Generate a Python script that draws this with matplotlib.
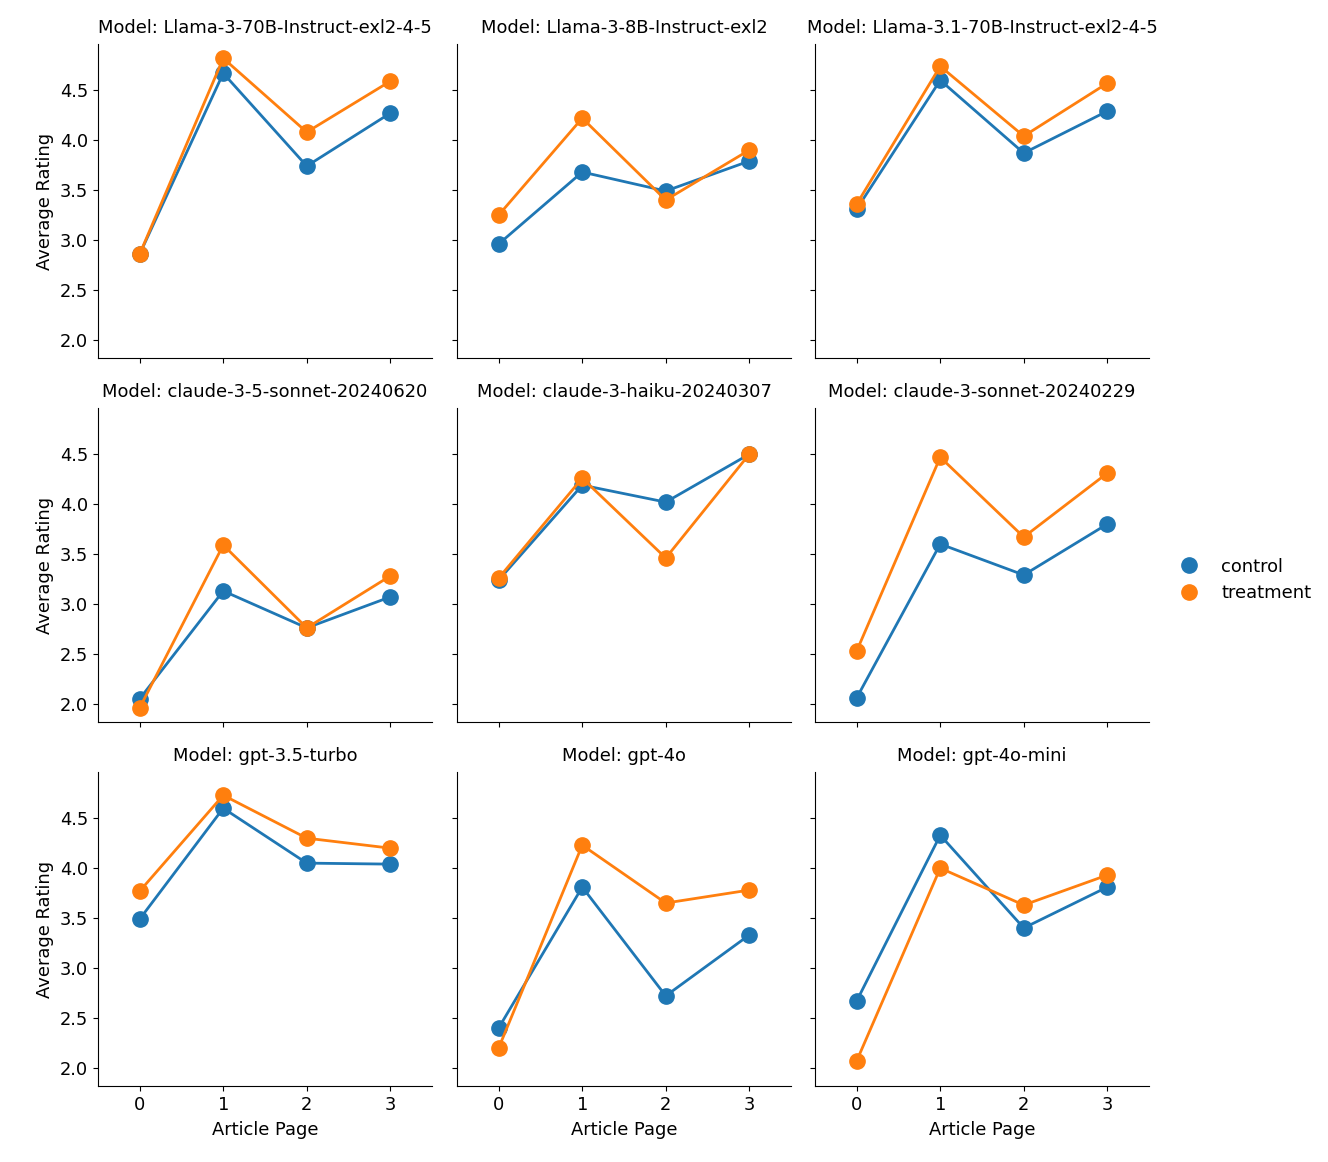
import matplotlib
matplotlib.use("Agg")
import matplotlib.pyplot as plt
from matplotlib.lines import Line2D

plt.rcParams['font.size'] = 12.9

# Dados
models = ['Llama-3-70B-Instruct-exl2-4-5', 'Llama-3-8B-Instruct-exl2', 'Llama-3.1-70B-Instruct-exl2-4-5',
          'claude-3-5-sonnet-20240620', 'claude-3-haiku-20240307', 'claude-3-sonnet-20240229',
          'gpt-3.5-turbo', 'gpt-4o', 'gpt-4o-mini']
pages = [0, 1, 2, 3]

control = [
    [2.86, 4.67, 3.74, 4.27],
    [2.96, 3.68, 3.49, 3.79],
    [3.31, 4.60, 3.87, 4.29],
    [2.05, 3.13, 2.76, 3.07],
    [3.24, 4.19, 4.02, 4.50],
    [2.06, 3.60, 3.29, 3.80],
    [3.49, 4.60, 4.05, 4.04],
    [2.40, 3.81, 2.72, 3.33],
    [2.67, 4.33, 3.40, 3.81],
]
treatment = [
    [2.86, 4.82, 4.08, 4.59],
    [3.25, 4.22, 3.40, 3.90],
    [3.36, 4.74, 4.04, 4.57],
    [1.96, 3.59, 2.76, 3.28],
    [3.26, 4.26, 3.46, 4.50],
    [2.53, 4.47, 3.67, 4.31],
    [3.77, 4.73, 4.30, 4.20],
    [2.20, 4.23, 3.65, 3.78],
    [2.07, 4.00, 3.63, 3.93],
]

cor_controle = '#1f77b4'
cor_tratamento = '#ff7f0e'

W, H = 1328, 1162
fig = plt.figure(figsize=(W / 100, H / 100), dpi=100)

lefts = [98, 457, 815]
tops = [44, 408, 772]
aw, ah = 334, 314

axes = []
for i, model in enumerate(models):
    r, c = divmod(i, 3)
    rect = [lefts[c] / W, 1 - (tops[r] + ah) / H, aw / W, ah / H]
    ax = fig.add_axes(rect, sharey=axes[0] if axes else None)
    axes.append(ax)

    ax.plot(pages, control[i], color=cor_controle, lw=2, marker='o', ms=11, zorder=3)
    ax.plot(pages, treatment[i], color=cor_tratamento, lw=2, marker='o', ms=11, zorder=4)

    ax.set_title(f'Model: {model}', fontsize=12.9, pad=8)
    ax.set_xlim(-0.5, 3.5)
    ax.set_xticks(pages)
    ax.spines['top'].set_visible(False)
    ax.spines['right'].set_visible(False)

    if c == 0:
        ax.set_ylabel('Average Rating')
    else:
        ax.tick_params(labelleft=False)
    if r == 2:
        ax.set_xlabel('Article Page', labelpad=5)
    else:
        ax.tick_params(labelbottom=False)

axes[0].set_yticks([2.0, 2.5, 3.0, 3.5, 4.0, 4.5])

# Legenda à direita
handles = [Line2D([], [], color=cor_controle, marker='o', ls='', ms=11),
           Line2D([], [], color=cor_tratamento, marker='o', ls='', ms=11)]
fig.legend(handles, ['control', 'treatment'], loc='center left',
           bbox_to_anchor=(1155 / W, 1 - 580 / H), frameon=False, fontsize=12.9,
           handletextpad=0.8)

fig.savefig('out.png', dpi=100)
